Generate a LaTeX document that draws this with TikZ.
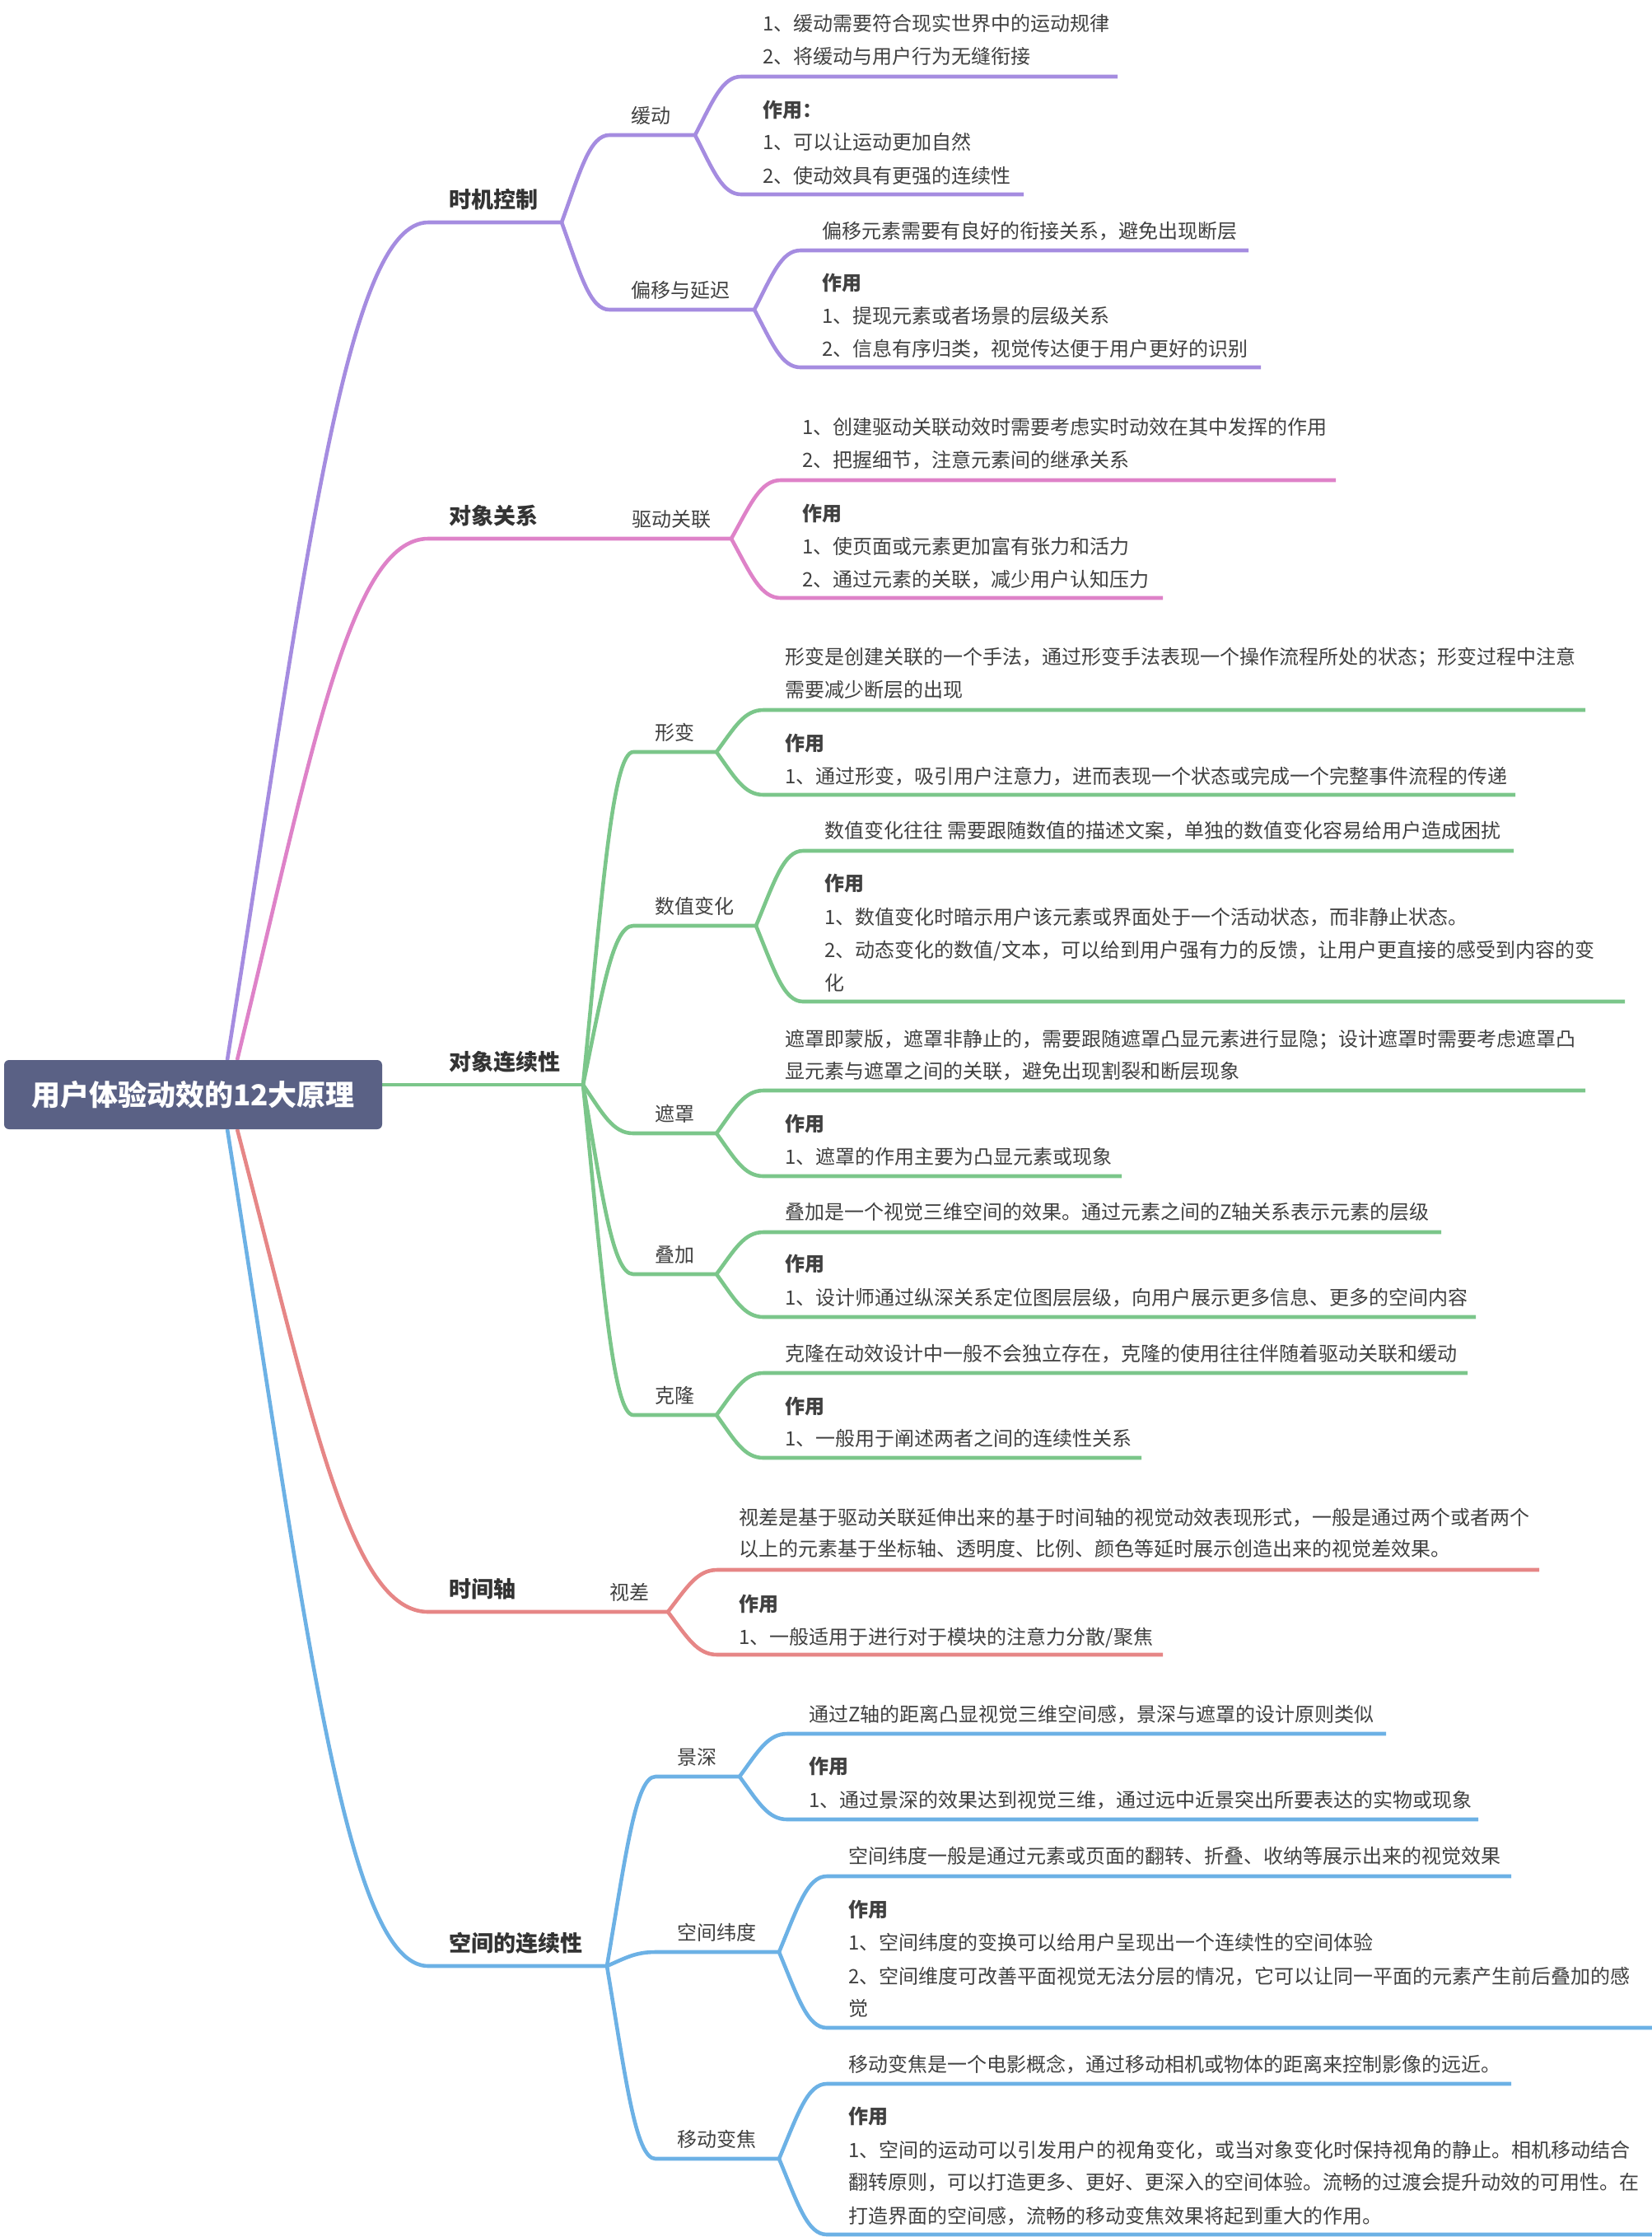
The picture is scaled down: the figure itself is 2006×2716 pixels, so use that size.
\documentclass[tikz,border=0pt]{standalone}
\usepackage{fontspec}
\setmainfont{Noto Sans CJK SC}
\usetikzlibrary{calc}
\definecolor{cP}{HTML}{A58CE0}
\definecolor{cK}{HTML}{DE82C8}
\definecolor{cG}{HTML}{7BC68A}
\definecolor{cR}{HTML}{E68686}
\definecolor{cB}{HTML}{6CB1E5}
\definecolor{rootc}{HTML}{5A6185}
\definecolor{txtc}{HTML}{404040}
\definecolor{lonec}{HTML}{333333}
\tikzset{
  txt/.style={anchor=west, inner sep=0pt, text height=9.9pt, text depth=0.8pt, font=\fontsize{12pt}{14pt}\selectfont, text=txtc},
  hdg/.style={txt, font=\fontsize{12pt}{14pt}\selectfont\bfseries},
  lone/.style={anchor=west, inner sep=0pt, text height=11.1pt, text depth=0.9pt, font=\fontsize{13.5pt}{16pt}\selectfont\bfseries, text=lonec},
  br/.style={line width=2.3pt, draw=#1, line cap=butt},
  rootbox/.style={fill=rootc, rounded corners=3pt, minimum width=229.5pt, minimum height=42pt, inner sep=0pt, text=white, font=\fontsize{17.5pt}{21pt}\selectfont\bfseries}
}
\newcommand\link[4]{\draw[br=#1] let \p1=(#2), \p2=(#3) in (\p1) .. controls ({\x1+0.39*(\x2-\x1)},{\y1+0.59*(\y2-\y1)}) and ({\x1+0.59*(\x2-\x1)},\y2) .. (\p2) -- (#4);}
\newcommand\tln[4]{\node[txt] (#1) at (#2,#3) {#4};}
\newcommand\thd[4]{\node[hdg] (#1) at (#2,#3) {#4};}
\begin{document}
\begin{tikzpicture}[x=0.5pt,y=-0.5pt]
\useasboundingbox (0,0) rectangle (2006,2716);
% ---------- coordinates ----------
\coordinate (rA) at (276,1287);
\coordinate (rB) at (288,1287);
\coordinate (rC) at (288,1371);
\coordinate (rD) at (276,1371);
\coordinate (rG) at (464,1317);
\coordinate (tmS) at (520,270);  \coordinate (tmJ) at (682,270);
\coordinate (hdS) at (740,164);  \coordinate (hdJ) at (844,164);
\coordinate (hd1S) at (900,93);  \coordinate (hd1E) at (1357,93);
\coordinate (hd2S) at (900,236); \coordinate (hd2E) at (1243,236);
\coordinate (pyS) at (740,376);  \coordinate (pyJ) at (916,376);
\coordinate (py1S) at (972,304); \coordinate (py1E) at (1516,304);
\coordinate (py2S) at (972,446); \coordinate (py2E) at (1531,446);
\coordinate (dgS) at (520,654);  \coordinate (qdJ) at (888,654);
\coordinate (qd1S) at (948,583); \coordinate (qd1E) at (1622,583);
\coordinate (qd2S) at (948,726); \coordinate (qd2E) at (1412,726);
\coordinate (dlJ) at (708,1317);
\coordinate (xbS) at (769,913);  \coordinate (xbJ) at (870,913);
\coordinate (xb1S) at (927,862); \coordinate (xb1E) at (1925,862);
\coordinate (xb2S) at (927,965); \coordinate (xb2E) at (1840,965);
\coordinate (szS) at (769,1124); \coordinate (szJ) at (918,1124);
\coordinate (sz1S) at (975,1033); \coordinate (sz1E) at (1838,1033);
\coordinate (sz2S) at (975,1216); \coordinate (sz2E) at (1973,1216);
\coordinate (zzS) at (769,1376); \coordinate (zzJ) at (870,1376);
\coordinate (zz1S) at (927,1324); \coordinate (zz1E) at (1925,1324);
\coordinate (zz2S) at (927,1428); \coordinate (zz2E) at (1362,1428);
\coordinate (djS) at (769,1547); \coordinate (djJ) at (870,1547);
\coordinate (dj1S) at (927,1496); \coordinate (dj1E) at (1750,1496);
\coordinate (dj2S) at (927,1599); \coordinate (dj2E) at (1792,1599);
\coordinate (klS) at (769,1718); \coordinate (klJ) at (870,1718);
\coordinate (kl1S) at (927,1667); \coordinate (kl1E) at (1782,1667);
\coordinate (kl2S) at (927,1770); \coordinate (kl2E) at (1386,1770);
\coordinate (sjS) at (520,1957); \coordinate (scJ) at (811,1957);
\coordinate (sc1S) at (871,1906); \coordinate (sc1E) at (1869,1906);
\coordinate (sc2S) at (871,2009); \coordinate (sc2E) at (1412,2009);
\coordinate (kjS) at (520,2387); \coordinate (kjJ) at (737,2387);
\coordinate (jsS) at (796,2157); \coordinate (jsJ) at (898,2157);
\coordinate (js1S) at (956,2105); \coordinate (js1E) at (1683,2105);
\coordinate (js2S) at (956,2209); \coordinate (js2E) at (1795,2209);
\coordinate (kwS) at (796,2370); \coordinate (kwJ) at (946,2370);
\coordinate (kw1S) at (1004,2278); \coordinate (kw1E) at (1835,2278);
\coordinate (kw2S) at (1004,2462); \coordinate (kw2E) at (2006,2462);
\coordinate (ydS) at (796,2621); \coordinate (ydJ) at (946,2621);
\coordinate (yd1S) at (1004,2530); \coordinate (yd1E) at (1835,2530);
\coordinate (yd2S) at (1004,2713); \coordinate (yd2E) at (2006,2713);
% ---------- branches ----------
% purple
\link{cP}{rA}{tmS}{tmJ}
\link{cP}{tmJ}{hdS}{hdJ}
\link{cP}{tmJ}{pyS}{pyJ}
\link{cP}{hdJ}{hd1S}{hd1E}
\link{cP}{hdJ}{hd2S}{hd2E}
\link{cP}{pyJ}{py1S}{py1E}
\link{cP}{pyJ}{py2S}{py2E}
% pink
\link{cK}{rB}{dgS}{qdJ}
\link{cK}{qdJ}{qd1S}{qd1E}
\link{cK}{qdJ}{qd2S}{qd2E}
% green
\draw[br=cG] (rG) -- (dlJ);
\link{cG}{dlJ}{xbS}{xbJ}
\link{cG}{dlJ}{szS}{szJ}
\link{cG}{dlJ}{zzS}{zzJ}
\link{cG}{dlJ}{djS}{djJ}
\link{cG}{dlJ}{klS}{klJ}
\link{cG}{xbJ}{xb1S}{xb1E}
\link{cG}{xbJ}{xb2S}{xb2E}
\link{cG}{szJ}{sz1S}{sz1E}
\link{cG}{szJ}{sz2S}{sz2E}
\link{cG}{zzJ}{zz1S}{zz1E}
\link{cG}{zzJ}{zz2S}{zz2E}
\link{cG}{djJ}{dj1S}{dj1E}
\link{cG}{djJ}{dj2S}{dj2E}
\link{cG}{klJ}{kl1S}{kl1E}
\link{cG}{klJ}{kl2S}{kl2E}
% red
\link{cR}{rC}{sjS}{scJ}
\link{cR}{scJ}{sc1S}{sc1E}
\link{cR}{scJ}{sc2S}{sc2E}
% blue
\link{cB}{rD}{kjS}{kjJ}
\link{cB}{kjJ}{jsS}{jsJ}
\link{cB}{kjJ}{kwS}{kwJ}
\link{cB}{kjJ}{ydS}{ydJ}
\link{cB}{jsJ}{js1S}{js1E}
\link{cB}{jsJ}{js2S}{js2E}
\link{cB}{kwJ}{kw1S}{kw1E}
\link{cB}{kwJ}{kw2S}{kw2E}
\link{cB}{ydJ}{yd1S}{yd1E}
\link{cB}{ydJ}{yd2S}{yd2E}
% ---------- root ----------
\node[rootbox] (root) at (234.5,1329) {用户体验动效的12大原理};
% ---------- level 1 ----------
\node[lone] (tm) at (545,242) {时机控制};
\node[lone] (dg) at (545,626) {对象关系};
\node[lone] (dl) at (545,1289) {对象连续性};
\node[lone] (sj) at (545,1929) {时间轴};
\node[lone] (kj) at (545,2359) {空间的连续性};
% ---------- level 2 ----------
\node[txt] (hd) at (766,140) {缓动};
\node[txt] (py) at (766,352) {偏移与延迟};
\node[txt] (qd) at (767,630) {驱动关联};
\node[txt] (xb) at (795,889) {形变};
\node[txt] (sz) at (795,1100) {数值变化};
\node[txt] (zz) at (795,1352) {遮罩};
\node[txt] (dj) at (795,1523) {叠加};
\node[txt] (kl) at (795,1694) {克隆};
\node[txt] (sc) at (740,1933) {视差};
\node[txt] (js) at (822,2133) {景深};
\node[txt] (kw) at (822,2346) {空间纬度};
\node[txt] (yd) at (822,2597) {移动变焦};
% ---------- content ----------
\tln{hda}{926}{28}{1、缓动需要符合现实世界中的运动规律}
\tln{hdb}{926}{68}{2、将缓动与用户行为无缝衔接}
\thd{hdc}{926}{133}{作用：}
\tln{hdd}{926}{172}{1、可以让运动更加自然}
\tln{hde}{926}{213}{2、使动效具有更强的连续性}
\tln{pya}{998}{280}{偏移元素需要有良好的衔接关系，避免出现断层}
\thd{pyb}{998}{343}{作用}
\tln{pyc}{998}{383}{1、提现元素或者场景的层级关系}
\tln{pyd}{998}{423}{2、信息有序归类，视觉传达便于用户更好的识别}
\tln{qda}{974}{518}{1、创建驱动关联动效时需要考虑实时动效在其中发挥的作用}
\tln{qdb}{974}{558}{2、把握细节，注意元素间的继承关系}
\thd{qdc}{974}{623}{作用}
\tln{qdd}{974}{663}{1、使页面或元素更加富有张力和活力}
\tln{qde}{974}{703}{2、通过元素的关联，减少用户认知压力}
\tln{xba}{953}{797}{形变是创建关联的一个手法，通过形变手法表现一个操作流程所处的状态；形变过程中注意}
\tln{xbb}{953}{837}{需要减少断层的出现}
\thd{xbc}{953}{902}{作用}
\tln{xbd}{953}{942}{1、通过形变，吸引用户注意力，进而表现一个状态或完成一个完整事件流程的传递}
\tln{sza}{1001}{1008}{数值变化往往 需要跟随数值的描述文案，单独的数值变化容易给用户造成困扰}
\thd{szb}{1001}{1072}{作用}
\tln{szc}{1001}{1113}{1、数值变化时暗示用户该元素或界面处于一个活动状态，而非静止状态。}
\tln{szd}{1001}{1153}{2、动态变化的数值/文本，可以给到用户强有力的反馈，让用户更直接的感受到内容的变}
\tln{sze}{1001}{1193}{化}
\tln{zza}{953}{1261}{遮罩即蒙版，遮罩非静止的，需要跟随遮罩凸显元素进行显隐；设计遮罩时需要考虑遮罩凸}
\tln{zzb}{953}{1300}{显元素与遮罩之间的关联，避免出现割裂和断层现象}
\thd{zzc}{953}{1364}{作用}
\tln{zzd}{953}{1404}{1、遮罩的作用主要为凸显元素或现象}
\tln{dja}{953}{1471}{叠加是一个视觉三维空间的效果。通过元素之间的Z轴关系表示元素的层级}
\thd{djb}{953}{1534}{作用}
\tln{djc}{953}{1575}{1、设计师通过纵深关系定位图层层级，向用户展示更多信息、更多的空间内容}
\tln{kla}{953}{1643}{克隆在动效设计中一般不会独立存在，克隆的使用往往伴随着驱动关联和缓动}
\thd{klb}{953}{1707}{作用}
\tln{klc}{953}{1746}{1、一般用于阐述两者之间的连续性关系}
\tln{sca}{897}{1842}{视差是基于驱动关联延伸出来的基于时间轴的视觉动效表现形式，一般是通过两个或者两个}
\tln{scb}{897}{1880}{以上的元素基于坐标轴、透明度、比例、颜色等延时展示创造出来的视觉差效果。}
\thd{scc}{897}{1947}{作用}
\tln{scd}{897}{1987}{1、一般适用于进行对于模块的注意力分散/聚焦}
\tln{jsa}{982}{2081}{通过Z轴的距离凸显视觉三维空间感，景深与遮罩的设计原则类似}
\thd{jsb}{982}{2144}{作用}
\tln{jsc}{982}{2185}{1、通过景深的效果达到视觉三维，通过远中近景突出所要表达的实物或现象}
\tln{kwa}{1030}{2253}{空间纬度一般是通过元素或页面的翻转、折叠、收纳等展示出来的视觉效果}
\thd{kwb}{1030}{2318}{作用}
\tln{kwc}{1030}{2358}{1、空间纬度的变换可以给用户呈现出一个连续性的空间体验}
\tln{kwd}{1030}{2399}{2、空间维度可改善平面视觉无法分层的情况，它可以让同一平面的元素产生前后叠加的感}
\tln{kwe}{1030}{2438}{觉}
\tln{yda}{1030}{2506}{移动变焦是一个电影概念，通过移动相机或物体的距离来控制影像的远近。}
\thd{ydb}{1030}{2569}{作用}
\tln{ydc}{1030}{2610}{1、空间的运动可以引发用户的视角变化，或当对象变化时保持视角的静止。相机移动结合}
\tln{ydd}{1030}{2649}{翻转原则，可以打造更多、更好、更深入的空间体验。流畅的过渡会提升动效的可用性。在}
\tln{yde}{1030}{2690}{打造界面的空间感，流畅的移动变焦效果将起到重大的作用。}
\end{tikzpicture}
\end{document}
